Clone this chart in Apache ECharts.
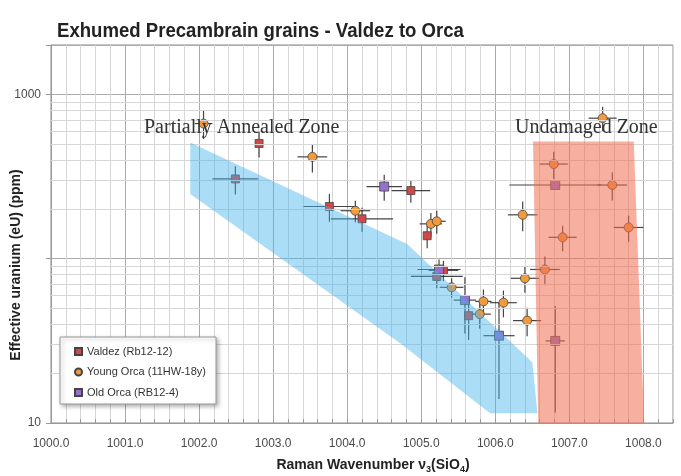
<!DOCTYPE html>
<html><head><meta charset="utf-8">
<script src="https://cdn.jsdelivr.net/npm/echarts@6/dist/echarts.min.js"></script>
<style>html,body{margin:0;padding:0;background:#fff}#c{width:681px;height:476px}</style>
</head><body><div id="c"></div>
<script>
// ---- data ----
const xMajorLabels = [1000,1001,1002,1003,1004,1005,1006,1007,1008];
const yTickLabels = [10, 1000];
const yMinorGrid = [20,30,40,50,60,70,80,90,200,300,400,500,600,700,800,900];

// [wavenumber, eU, xErr, yErr]
const valdez = [
  [1002.81, 503, 0, 90],
  [1002.49, 306, 0.31, 60],
  [1003.76, 208, 0.35, 40],
  [1004.20, 175, 0.42, 29],
  [1004.86, 260, 0.26, 41],
  [1005.08, 138, 0, 22],
  [1005.30, 85, 0.2, 12],
  [1005.21, 78, 0.35, 12],
  [1005.64, 45, 0.05, 13]
];
const youngOrca = [
  [1002.06, 665, 0.12, 130],
  [1003.53, 417, 0.2, 82],
  [1004.11, 196, 0.2, 29],
  [1005.13, 163, 0.15, 27],
  [1005.21, 169, 0.12, 27],
  [1005.41, 67, 0.16, 9],
  [1005.84, 55, 0.11, 10],
  [1006.11, 54, 0.18, 10],
  [1005.79, 46, 0.15, 8.5],
  [1006.40, 76, 0.19, 14],
  [1006.43, 42, 0.19, 8.3],
  [1006.67, 86, 0.2, 17],
  [1006.37, 185, 0.2, 38],
  [1006.79, 377, 0.19, 71],
  [1007.58, 281, 0.2, 55],
  [1007.80, 155, 0.2, 28],
  [1006.91, 135, 0.19, 24],
  [1007.45, 717, 0.19, 125]
];
const oldOrca = [
  [1004.50, 275, 0.24, 50],
  [1005.24, 86, 0.29, 13],
  [1005.59, 56, 0.15, 21],
  [1006.05, 34, 0.21, 20],
  [1006.81, 281, 0.62, 0],
  [1006.81, 31.6, 0.13, 20]
];
const annealedZone = [[1001.88,510],[1004.81,123],[1006.50,23.4],[1006.57,11.45],[1005.93,11.45],[1004.72,30.5],[1001.88,248]];
const undamagedZone = [[1006.51,517],[1007.87,517],[1008.01,10],[1006.58,10]];

const SANS = '"Liberation Sans", Arial, sans-serif';
const SERIF = '"Liberation Serif", "Times New Roman", serif';

function errSeries(name, arr) {
  return {
    type: 'custom', name: name + ' err', z: 2, silent: true,
    data: arr.map(d => d),
    renderItem: function (params, api) {
      const x = api.value(0), y = api.value(1), xe = api.value(2), ye = api.value(3);
      const children = [];
      const st = { stroke: 'rgba(35,35,35,0.85)', lineWidth: 1.2 };
      if (xe > 0) {
        const a = api.coord([x - xe, y]), b = api.coord([x + xe, y]);
        children.push({ type: 'line', shape: { x1: a[0], y1: a[1], x2: b[0], y2: b[1] }, style: st });
      }
      if (ye > 0) {
        const a = api.coord([x, y + ye]), b = api.coord([x, Math.max(y - ye, 10.01)]);
        children.push({ type: 'line', shape: { x1: a[0], y1: a[1], x2: b[0], y2: b[1] }, style: st });
      }
      return { type: 'group', children: children };
    }
  };
}
function zoneSeries(pts, fill) {
  return {
    type: 'custom', z: 5, silent: true,
    data: [pts[0]],
    renderItem: function (params, api) {
      return { type: 'polygon', shape: { points: pts.map(p => api.coord(p)) }, style: { fill: fill } };
    }
  };
}
function scatter(name, arr, symbol, size, color) {
  return {
    type: 'scatter', name: name, z: 3, symbol: symbol, symbolSize: size,
    data: arr.map(d => [d[0], d[1]]),
    itemStyle: { color: color, borderColor: '#444', borderWidth: 0.8, opacity: 1 }
  };
}

const chart = echarts.init(document.getElementById('c'), null, { renderer: 'canvas' });
chart.setOption({
  animation: false,
  backgroundColor: '#fff',
  grid: { left: 51, top: 45, width: 622, height: 378, show: true, borderColor: '#8a8a8a', borderWidth: 1, backgroundColor: 'transparent' },
  xAxis: {
    type: 'value', min: 1000, max: 1008.4, interval: 0.2,
    axisLine: { show: true, lineStyle: { color: '#999' } },
    axisTick: { show: true, inside: true, length: 4, lineStyle: { color: '#999' } },
    axisLabel: {
      color: '#4a4a4a', fontSize: 12, fontFamily: SANS, margin: 15,
      formatter: v => { const r = Math.round(v); return (Math.abs(v - r) < 1e-6 && xMajorLabels.indexOf(r) >= 0) ? r.toFixed(1) : ''; }
    },
    splitLine: { show: true, lineStyle: { color: ['#a9a9a9', '#d6d6d6', '#d6d6d6', '#d6d6d6', '#d6d6d6'], width: 1 } }
  },
  yAxis: {
    type: 'log', logBase: 10, min: 10, max: 2000,
    axisLine: { show: true, lineStyle: { color: '#999' } },
    axisTick: { show: true, length: 5, lineStyle: { color: '#999' } },
    axisLabel: {
      color: '#4a4a4a', fontSize: 12, fontFamily: SANS, margin: 10,
      formatter: v => { const r = Math.round(v); return yTickLabels.indexOf(r) >= 0 && Math.abs(v - r) < 1e-3 ? String(r) : ''; }
    },
    splitLine: { show: true, lineStyle: { color: '#ababab', width: 1 } }
  },
  legend: {
    left: 60, top: 337, orient: 'vertical', itemWidth: 7, itemHeight: 7, itemGap: 9.5,
    padding: [9, 10, 6, 14], backgroundColor: '#fff', borderColor: '#999', borderWidth: 1,
    shadowBlur: 4, shadowColor: 'rgba(0,0,0,0.3)', shadowOffsetX: 2, shadowOffsetY: 2,
    textStyle: { fontSize: 11, color: '#333', fontFamily: SANS },
    data: [
      { name: 'Valdez (Rb12-12)', icon: 'rect' },
      { name: 'Young Orca (11HW-18y)', icon: 'circle' },
      { name: 'Old Orca (RB12-4)', icon: 'rect' }
    ],
    z: 20
  },
  graphic: [
    { type: 'text', x: 57, y: 31, scaleX: 0.885, z: 100,
      style: { text: 'Exhumed Precambrain grains - Valdez to Orca', font: 'bold 21px ' + SANS, fill: '#222', verticalAlign: 'middle' } },
    { type: 'text', x: 16, y: 265, rotation: Math.PI / 2, z: 100,
      style: { text: 'Effective uranium (eU) (ppm)', font: 'bold 14px ' + SANS, fill: '#222', align: 'center', verticalAlign: 'middle' } },
    { type: 'text', x: 373, y: 465, z: 100,
      style: { text: '{a|Raman Wavenumber ν}{s|3}{a|(SiO}{s|4}{a|)}', align: 'center', verticalAlign: 'middle', fill: '#222',
        rich: { a: { font: 'bold 14px ' + SANS, lineHeight: 18, fill: '#222' }, s: { font: 'bold 9px ' + SANS, lineHeight: 18, verticalAlign: 'bottom', fill: '#222' } } } },
    { type: 'text', x: 144, y: 128, z: 100,
      style: { text: 'Partially Annealed Zone', font: '20px ' + SERIF, fill: '#333', verticalAlign: 'middle' } },
    { type: 'text', x: 515, y: 128, z: 100,
      style: { text: 'Undamaged Zone', font: '20px ' + SERIF, fill: '#333', verticalAlign: 'middle' } }
  ],
  series: [
    { type: 'line', name: 'minor grid', data: [], silent: true, z: 0,
      markLine: { silent: true, symbol: ['none', 'none'], label: { show: false },
        lineStyle: { color: '#d6d6d6', type: 'solid', width: 1 },
        data: yMinorGrid.map(v => ({ yAxis: v })) } },
    errSeries('Valdez', valdez),
    errSeries('Young', youngOrca),
    errSeries('Old', oldOrca),
    scatter('Valdez (Rb12-12)', valdez, 'rect', 8, '#d04848'),
    scatter('Young Orca (11HW-18y)', youngOrca, 'circle', 9, '#f39a3c'),
    scatter('Old Orca (RB12-4)', oldOrca, 'rect', 9, '#9472cc'),
    zoneSeries(annealedZone, 'rgba(70,180,235,0.45)'),
    zoneSeries(undamagedZone, 'rgba(240,110,80,0.55)')
  ]
});
</script>
</body></html>
